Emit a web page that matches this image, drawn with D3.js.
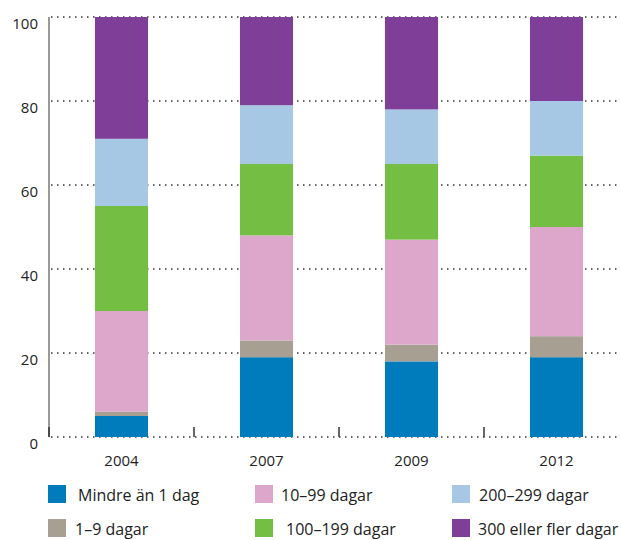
<!DOCTYPE html>
<html>
<head>
<meta charset="utf-8">
<script src="https://cdn.jsdelivr.net/npm/d3@7"></script>
<style>
  body { margin: 0; background: #fff; }
  svg text { font-family: "Open Sans", sans-serif; fill: #222; }
</style>
</head>
<body>
<div id="container"></div>
<script>
/* DATA */
const years = ["2004", "2007", "2009", "2012"];
const groups = ["Mindre än 1 dag", "1–9 dagar", "10–99 dagar", "100–199 dagar", "200–299 dagar", "300 eller fler dagar"];
const colors = ["#007bbb", "#a79f92", "#dda7cb", "#74bf43", "#a6c8e4", "#7f3f98"];

const lessThan1 = [5, 19, 18, 19];
const days1to9 = [1, 4, 4, 5];
const days10to99 = [24, 25, 25, 26];
const days100to199 = [25, 17, 18, 17];
const days200to299 = [16, 14, 13, 13];
const days300plus = [29, 21, 22, 20];

const yTicks = [0, 20, 40, 60, 80, 100];

/* CONSTANTS */
const width = 621, height = 540;
const margin = { top: 17, left: 49, right: -8, bottom: 103 };

const series = [lessThan1, days1to9, days10to99, days100to199, days200to299, days300plus];
const table = years.map((y, i) => {
  const row = { year: y };
  groups.forEach((g, j) => row[g] = series[j][i]);
  return row;
});

const svg = d3.select("#container")
  .append("svg")
  .attr("width", width)
  .attr("height", height);

const xScale = d3.scaleBand()
  .domain(years)
  .range([margin.left, width - margin.right])
  .paddingInner(0.634)
  .paddingOuter(0.317);

const yScale = d3.scaleLinear()
  .domain([0, 100])
  .range([height - margin.bottom, margin.top]);

// dotted gridlines
svg.selectAll(".grid")
  .data(yTicks)
  .join("line")
  .attr("class", "grid")
  .attr("x1", margin.left + 2)
  .attr("x2", width)
  .attr("y1", d => yScale(d))
  .attr("y2", d => yScale(d))
  .attr("stroke", "#333")
  .attr("stroke-width", 1.5)
  .attr("stroke-dasharray", "1.5,4.5");

// y axis line
svg.append("line")
  .attr("x1", margin.left).attr("x2", margin.left)
  .attr("y1", yScale(100)).attr("y2", yScale(0))
  .attr("stroke", "#777")
  .attr("stroke-width", 1.5);

// y labels
svg.selectAll(".ylab")
  .data(yTicks)
  .join("text")
  .attr("class", "ylab")
  .attr("x", 38)
  .attr("y", d => yScale(d) + 12)
  .attr("text-anchor", "end")
  .style("font-size", "15px")
  .text(d => d);

// stacked bars
const stack = d3.stack().keys(groups)(table);

svg.selectAll(".layer")
  .data(stack)
  .join("g")
  .attr("class", "layer")
  .attr("fill", (d, i) => colors[i])
  .selectAll("rect")
  .data(d => d)
  .join("rect")
  .attr("x", d => xScale(d.data.year))
  .attr("width", xScale.bandwidth())
  .attr("y", d => yScale(d[1]))
  .attr("height", d => yScale(d[0]) - yScale(d[1]));

// x ticks at category boundaries
const step = xScale.step();
svg.selectAll(".xtick")
  .data(d3.range(years.length))
  .join("line")
  .attr("class", "xtick")
  .attr("x1", i => margin.left + i * step)
  .attr("x2", i => margin.left + i * step)
  .attr("y1", yScale(0) - 10)
  .attr("y2", yScale(0))
  .attr("stroke", "#333")
  .attr("stroke-width", 1.5);

// x labels
svg.selectAll(".xlab")
  .data(years)
  .join("text")
  .attr("class", "xlab")
  .attr("x", d => xScale(d) + xScale.bandwidth() / 2)
  .attr("y", yScale(0) + 29)
  .attr("text-anchor", "middle")
  .style("font-size", "15px")
  .text(d => d);

// legend
const legendX = [48, 255, 452];
const legendRow = [485, 519];
const legend = svg.selectAll(".legend")
  .data(groups)
  .join("g")
  .attr("class", "legend")
  .attr("transform", (d, i) => `translate(${legendX[Math.floor(i / 2)]},${legendRow[i % 2]})`);

legend.append("rect")
  .attr("width", 18)
  .attr("height", 18)
  .attr("fill", (d, i) => colors[i]);

legend.append("text")
  .attr("x", (d, i) => [30, 27, 26, 31, 27, 26][i])
  .attr("y", 16)
  .style("font-size", "16px")
  .text(d => d);
</script>
</body>
</html>
